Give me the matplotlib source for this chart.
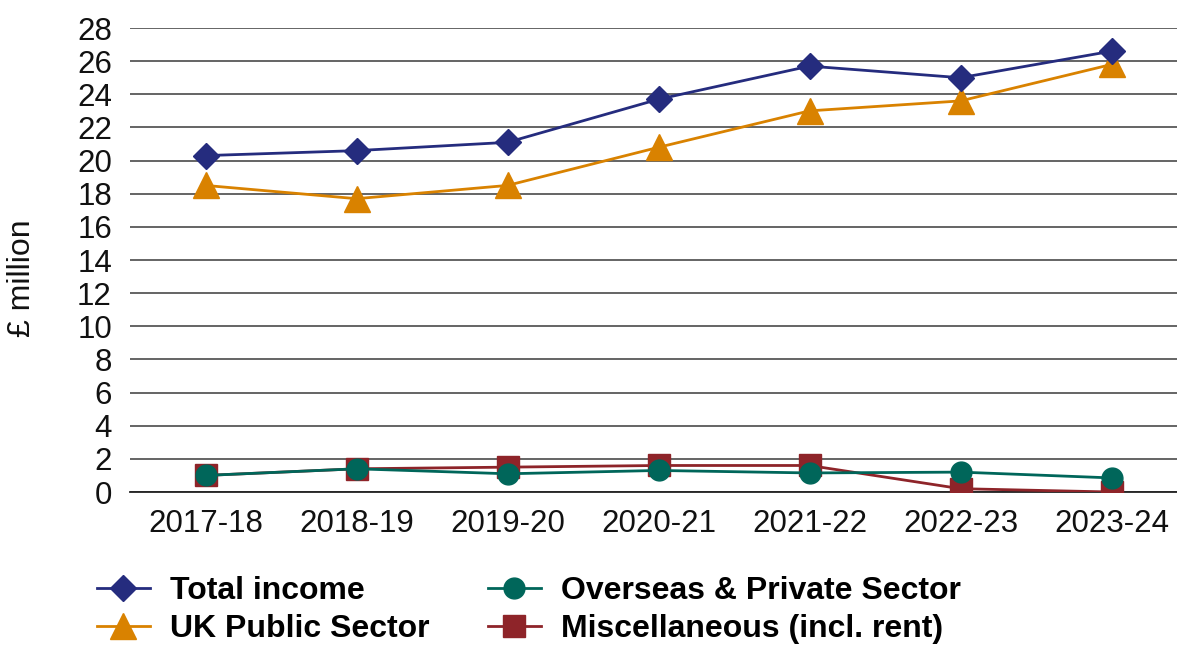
import matplotlib
matplotlib.use("Agg")
import matplotlib.pyplot as plt

plt.rcParams["font.family"] = ["Liberation Sans", "DejaVu Sans"]

years = ["2017-18", "2018-19", "2019-20", "2020-21", "2021-22", "2022-23", "2023-24"]
total_income = [20.3, 20.6, 21.1, 23.7, 25.7, 25.0, 26.6]
uk_public = [18.5, 17.7, 18.5, 20.8, 23.0, 23.6, 25.8]
overseas_private = [1.0, 1.4, 1.1, 1.3, 1.15, 1.2, 0.85]
miscellaneous = [1.0, 1.4, 1.5, 1.6, 1.6, 0.2, 0.0]
y_ticks = list(range(0, 29, 2))

NAVY = "#252c7e"
ORANGE = "#d98200"
TEAL = "#00665a"
MAROON = "#8e2429"

fig = plt.figure(figsize=(11.77, 6.46), dpi=100)
# axes runs slightly past the right edge, so the last column is cut like the page
ax = fig.add_axes([130 / 1177, 154 / 646, 1057 / 1177, 464 / 646])

x = range(len(years))
ln_total, = ax.plot(x, total_income, color=NAVY, lw=2, marker="D", ms=13.5,
                    label="Total income", zorder=4)
ln_uk, = ax.plot(x, uk_public, color=ORANGE, lw=2, marker="^", ms=19,
                 label="UK Public Sector", zorder=3)
ln_over, = ax.plot(x, overseas_private, color=TEAL, lw=2, marker="o", ms=15,
                   label="Overseas & Private Sector", zorder=4)
ln_misc, = ax.plot(x, miscellaneous, color=MAROON, lw=2, marker="s", ms=16,
                   label="Miscellaneous (incl. rent)", zorder=3)

ax.set_xlim(-0.5, len(years) - 0.5)
ax.set_ylim(0, 28)
ax.set_xticks(list(x))
ax.set_xticklabels(years)
ax.set_yticks(y_ticks)
ax.tick_params(axis="both", length=0, labelsize=22.5, colors="#111111")
ax.tick_params(axis="y", pad=13)
ax.tick_params(axis="x", pad=12)

ax.yaxis.grid(True, color="#3a3a3a", lw=1.1)
ax.set_axisbelow(True)
for side in ("top", "right", "left"):
    ax.spines[side].set_visible(False)
ax.spines["bottom"].set_color("#222222")
ax.spines["bottom"].set_linewidth(1.3)

fig.text(22 / 1177, 1 - 278 / 646, "£ million", rotation=90, fontsize=23,
         ha="center", va="center", color="#111111")

fig.legend(handles=[ln_total, ln_uk, ln_over, ln_misc], ncol=2,
           loc="upper left", bbox_to_anchor=(97 / 1177, 1 - 576 / 646),
           frameon=False, prop={"weight": "bold", "size": 23},
           handlelength=1.65, handletextpad=0.62, columnspacing=1.85,
           labelspacing=0.26, borderaxespad=0, borderpad=0)

fig.savefig("out.png", dpi=100)
